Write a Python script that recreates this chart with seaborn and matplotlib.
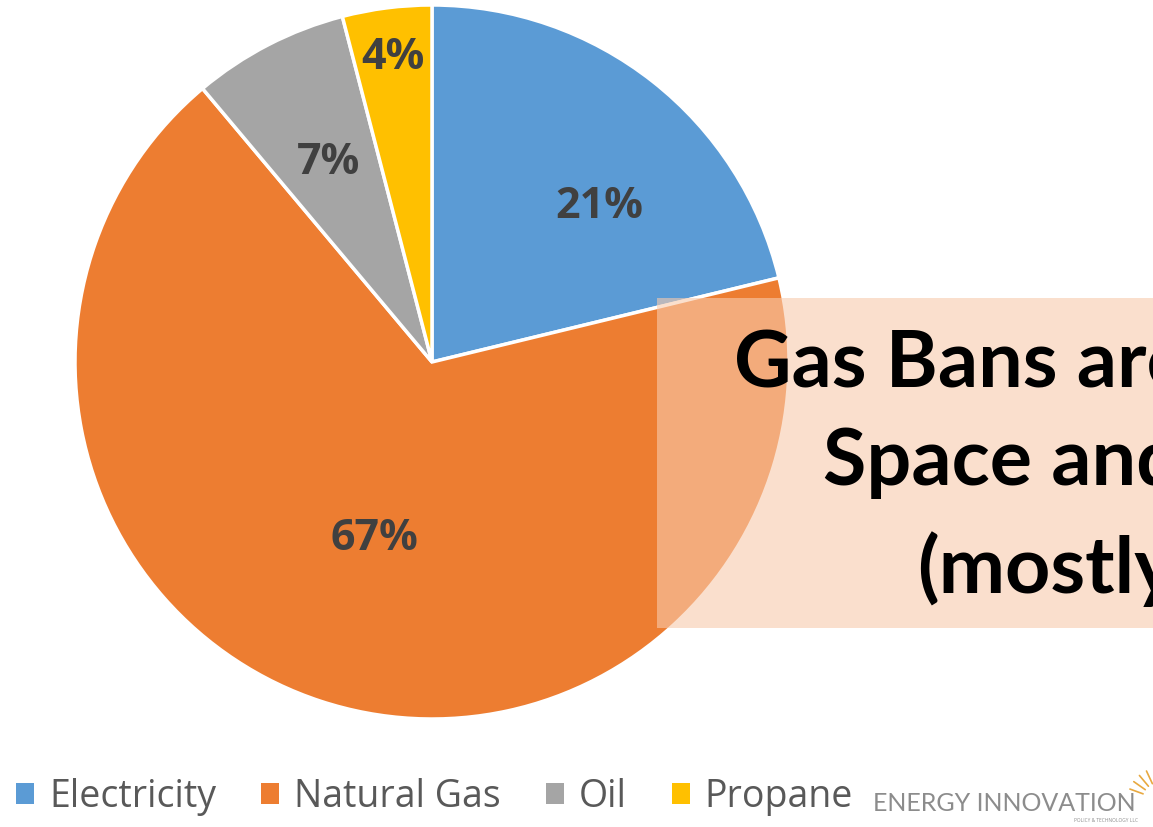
import matplotlib
matplotlib.use("Agg")
import numpy as np
import matplotlib.pyplot as plt
import seaborn as sns
from matplotlib.patches import Rectangle
from matplotlib.lines import Line2D

# Home heating fuel shares
fuels = ["Electricity", "Natural Gas", "Oil", "Propane"]
shares = [21, 67, 7, 4]
fuel_colors = ["#5B9BD5", "#ED7D31", "#A5A5A5", "#FFC000"]

headline = ["Gas Bans are", "Space and", "(mostly"]
brand = "ENERGY INNOVATION"
brand_sub = "POLICY & TECHNOLOGY LLC"

sns.set_theme(style="white")
plt.rcParams["font.family"] = ["Open Sans", "DejaVu Sans"]

W, H = 1153, 827
fig = plt.figure(figsize=(W / 100, H / 100), dpi=100)
fig.patch.set_facecolor("white")


def fx(px):
    return px / W


def fy(py):
    return 1 - py / H


# pie placement (pixels)
cx, cy, r = 432, 362, 357
ax = fig.add_axes([fx(cx - r), fy(cy + r), 2 * r / W, 2 * r / H])
wedges, _ = ax.pie(
    shares,
    colors=fuel_colors,
    startangle=90,
    counterclock=False,
    wedgeprops=dict(linewidth=2.5, edgecolor="white"),
)
for w in wedges:
    w.set_clip_on(False)
ax.set_xlim(-1, 1)
ax.set_ylim(-1, 1)
ax.set_axis_off()

# percentage labels placed along each wedge's mid angle
label_r = [0.64, 0.52, 0.63, 0.86]
label_dtheta = [-9, 0, 0, 0]
for w, s, rr, dth in zip(wedges, shares, label_r, label_dtheta):
    mid = np.deg2rad((w.theta1 + w.theta2) / 2 + dth)
    ax.text(rr * np.cos(mid), rr * np.sin(mid), f"{s}%", ha="center", va="center",
            fontsize=31, fontweight="bold", color="#404040")

# translucent headline panel
fig.add_artist(Rectangle((fx(657), fy(628)), (W - 657) / W, (628 - 298) / H,
                         transform=fig.transFigure, facecolor="#F8CBAD", alpha=0.6,
                         edgecolor="none", zorder=5))
for txt, x0, yb in zip(headline, [734, 823, 917], [388, 485, 593]):
    fig.text(fx(x0), fy(yb), txt, fontsize=57, fontweight="bold", color="black",
             family=["Lato", "DejaVu Sans"], ha="left", va="baseline", zorder=6)

# legend
handles = [Rectangle((0, 0), 1, 1, facecolor=c, edgecolor="none") for c in fuel_colors]
fig.legend(handles, fuels, loc="center left", bbox_to_anchor=(fx(16), fy(797)),
           ncol=4, frameon=False, fontsize=27, handlelength=0.48, handleheight=0.48,
           handletextpad=0.4, columnspacing=1.2, labelcolor="#595959",
           borderaxespad=0, borderpad=0)

# logo text
fig.text(fx(873), fy(811), brand, fontsize=18, color="#8C8C8C", family=["Lato", "DejaVu Sans"],
         ha="left", va="baseline")
fig.text(fx(1138), fy(822), brand_sub, fontsize=3.5, color="#8C8C8C", ha="right", va="baseline")
for ang in [100, 115, 130, 145, 160]:
    a = np.deg2rad(ang)
    x0, y0 = 1160, 800
    fig.add_artist(Line2D([fx(x0 + 18 * np.cos(a)), fx(x0 + 32 * np.cos(a))],
                          [fy(y0 - 18 * np.sin(a)), fy(y0 - 32 * np.sin(a))],
                          transform=fig.transFigure, color="#E8A940", linewidth=1.2))

fig.savefig("out.png", dpi=100, facecolor="white")
